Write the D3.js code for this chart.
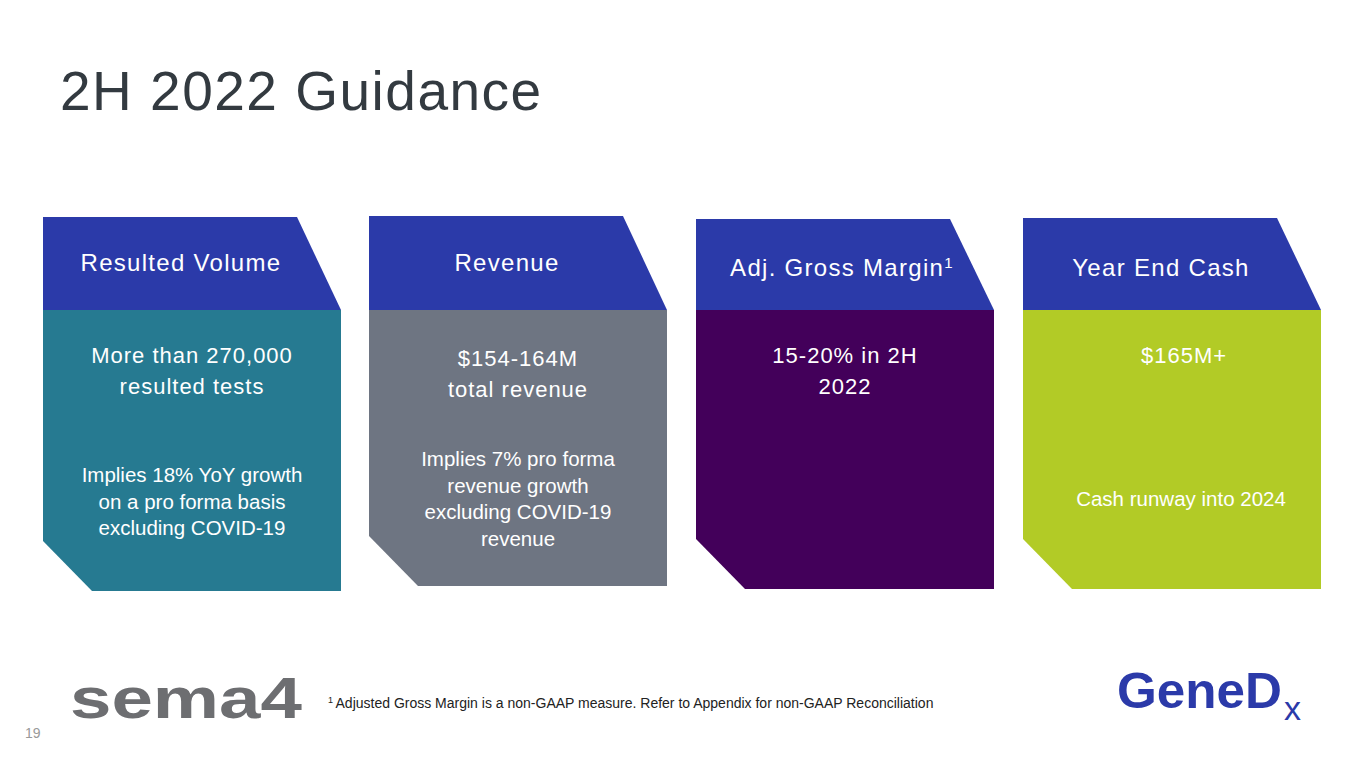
<!DOCTYPE html>
<html><head><meta charset="utf-8">
<script src="https://cdn.jsdelivr.net/npm/d3@7"></script>
<style>body{margin:0;background:#fff;font-family:"Liberation Sans",Arial,sans-serif}</style>
</head><body><svg id="s" width="1365" height="768"></svg>
<script>
// card content
const headers = ['Resulted Volume', 'Revenue', 'Adj. Gross Margin', 'Year End Cash'];
const bodyColors = ['#267a91', '#6e7582', '#43005a', '#b2cb26'];
const mainLines = [['More than 270,000', 'resulted tests'], ['$154-164M', ' total revenue'], ['15-20% in 2H', '2022'], ['$165M+']];
const subLines = [['Implies 18% YoY growth', 'on a pro forma basis', 'excluding COVID-19'],
  ['Implies 7% pro forma', 'revenue growth', 'excluding COVID-19', 'revenue'], [], ['Cash runway into 2024']];
const cardLefts = [43, 369, 696, 1023];
const headTops = [217, 216, 219, 218];
const bodyBottoms = [591, 586, 589, 589];

const svg = d3.select('#s');
svg.append('text').attr('x', 60).attr('y', 110).attr('font-size', 55).attr('fill', '#333a40')
  .attr('letter-spacing', 1.5).text('2H 2022 Guidance');

const w = 298;
headers.forEach((h, i) => {
  const x = cardLefts[i], t = headTops[i], b = bodyBottoms[i];
  const g = svg.append('g');
  g.append('path').attr('fill', '#2b3aa9')
    .attr('d', `M${x},${t}H${x + w - 44}L${x + w},310H${x}Z`);
  g.append('path').attr('fill', bodyColors[i])
    .attr('d', `M${x},310H${x + w}V${b}H${x + 49}L${x},${b - 50}Z`);
  const ht = g.append('text').attr('x', x + (i == 2 ? 146 : 138)).attr('y', i < 2 ? 271 : 276)
    .attr('text-anchor', 'middle').attr('fill', '#fff').attr('font-size', 24).attr('letter-spacing', 1.3).text(h);
  if (i == 2) ht.append('tspan').attr('font-size', 15).attr('dy', -8).text('1');
  const cx = x + 149;
  mainLines[i].forEach((l, j) => g.append('text').attr('x', i == 3 ? cx + 12 : cx).attr('y', 363 + j * 31 + (i == 1 ? 3 : 0))
    .attr('text-anchor', 'middle').attr('fill', '#fff').attr('font-size', 22).attr('letter-spacing', 1).text(l));
  const sy = i == 0 ? 482 : i == 1 ? 466 : 506;
  subLines[i].forEach((l, j) => g.append('text').attr('x', cx + (i == 3 ? 9 : 0)).attr('y', sy + j * 26.5)
    .attr('text-anchor', 'middle').attr('fill', '#fff').attr('font-size', 20.5).text(l));
});

// footer
svg.append('text').attr('x', 70).attr('y', 718).attr('font-size', 58).attr('font-weight', 'bold')
  .attr('fill', '#6d6e71').attr('textLength', 232).attr('lengthAdjust', 'spacingAndGlyphs').text('sema4');
const fn = svg.append('text').attr('x', 328).attr('y', 708).attr('font-size', 14).attr('fill', '#222');
fn.append('tspan').attr('font-size', 9).attr('dy', -5).text('1 ');
fn.append('tspan').attr('dy', 5).text('Adjusted Gross Margin is a non-GAAP measure. Refer to Appendix for non-GAAP Reconciliation');
svg.append('text').attr('x', 25).attr('y', 738).attr('font-size', 14).attr('fill', '#999').text('19');
svg.append('text').attr('x', 1117).attr('y', 708).attr('font-size', 50).attr('font-weight', 'bold')
  .attr('fill', '#2b3aa9').attr('textLength', 165).attr('lengthAdjust', 'spacingAndGlyphs').text('GeneD');
svg.append('text').attr('x', 1284).attr('y', 720).attr('font-size', 34).attr('fill', '#2b3aa9').text('x');
</script></body></html>
